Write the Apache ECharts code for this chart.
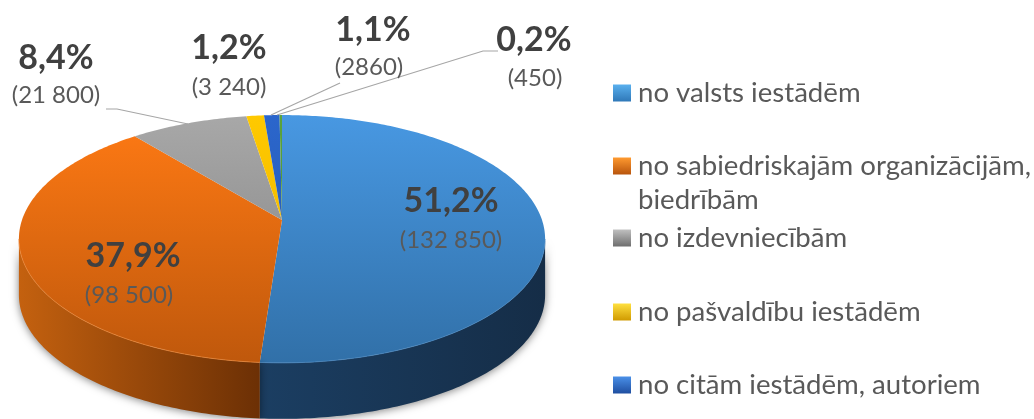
<!DOCTYPE html>
<html>
<head>
<meta charset="utf-8">
<script src="https://cdn.jsdelivr.net/npm/echarts@6/dist/echarts.min.js"></script>
<style>html,body{margin:0;padding:0;background:#fff}#c{width:1034px;height:419px}</style>
</head>
<body>
<div id="c"></div>
<script>
var sliceNames = ['no valsts iestādēm', 'no sabiedriskajām organizācijām,', 'no izdevniecībām', 'no pašvaldību iestādēm', 'no citām iestādēm, autoriem', 'citi'];
var sliceValues = [132850, 98500, 21800, 3240, 2860, 450];
var percentLabels = ['51,2%', '37,9%', '8,4%', '1,2%', '1,1%', '0,2%'];
var amountLabels = ['(132 850)', '(98 500)', '(21 800)', '(3 240)', '(2860)', '(450)'];
var legendExtraLine = 'biedrībām';

var topColors = [['#4898e2', '#3170a8'], ['#ff7a14', '#bf580c'], ['#a8a8a8', '#7f7f7f'], ['#ffc900', '#e8b000'], ['#2b66cc', '#2455a8'], ['#5ba33c', '#4c8a32']];
var wallColors = [['#1b3e62', '#152d47'], ['#c4610f', '#6c3005']];
var legendColors = [['#2f78b8', '#5ab0ee'], ['#b8540c', '#ff9a30'], ['#6e6e6e', '#c0c0c0'], ['#d09a00', '#ffe040'], ['#1f4ea0', '#4a90e8']];
var percentPos = [[451, 201], [133, 256], [56, 58], [229, 48], [373, 30], [534, 40]];
var amountPos = [[451, 240], [129, 295], [56, 95], [229, 87], [369, 67], [535, 78]];
var leaderLines = [null, null, [[106, 109], [117, 109], [188, 124]], null, [[271, 115], [340, 83]], [[277, 115], [483, 51], [498, 51]]];
var legendCenters = [93, 166, 238, 312, 385];

// perspective view of the pie's top face
var CX = 282, CY = 220, PA = 260, PB = 121, PK = 0.153, DEPTH = 56;
var total = sliceValues.reduce(function (a, b) { return a + b; }, 0);
var starts = [];
sliceValues.reduce(function (acc, v, i) { starts[i] = acc; return acc + v; }, 0);
var rimStart = Math.acos(-PK), rimEnd = Math.PI * 2 - rimStart;

function pt(a, dy) {
  var d = 1 + PK * Math.cos(a);
  return [CX + PA * Math.sin(a) / d, CY - PB * Math.cos(a) / d + (dy || 0)];
}
function arc(a0, a1, dy) {
  var n = Math.max(2, Math.ceil(Math.abs(a1 - a0) / 0.015)), out = [];
  for (var i = 0; i <= n; i++) out.push(pt(a0 + (a1 - a0) * i / n, dy));
  return out;
}
function grad(x, y, x2, y2, pair) {
  return new echarts.graphic.LinearGradient(x, y, x2, y2, [{ offset: 0, color: pair[0] }, { offset: 1, color: pair[1] }], true);
}

function makeRender(i) {
  return function (params, api) {
    var v = api.value(0);
    var a0 = starts[i] / total * Math.PI * 2;
    var a1 = a0 + v / total * Math.PI * 2;
    var kids = [];
    var w0 = Math.max(a0, rimStart), w1 = Math.min(a1, rimEnd);
    if (w1 > w0) {
      var wallPts = arc(w0, w1, 0).concat(arc(w1, w0, DEPTH));
      var xs = wallPts.map(function (p) { return p[0]; });
      var gx0 = Math.min.apply(null, xs), gx1 = Math.max.apply(null, xs);
      kids.push({
        type: 'polygon', shape: { points: wallPts },
        style: {
          fill: grad(gx0, 0, gx1, 0, wallColors[i]),
          shadowBlur: 9, shadowColor: 'rgba(0,0,0,0.5)', shadowOffsetY: 1
        }
      });
    }
    kids.push({
      type: 'polygon', shape: { points: [[CX, CY]].concat(arc(a0, a1, 0)) },
      style: { fill: grad(0, 115, 0, 363, topColors[i]) }
    });
    if (w1 > w0) {
      kids.push({
        type: 'polyline', shape: { points: arc(w0, w1, 0) },
        style: { fill: null, stroke: i === 0 ? '#4a8ac4' : '#f08a3a', lineWidth: 1, opacity: 0.7 }
      });
    }
    if (leaderLines[i]) {
      kids.push({
        type: 'polyline', shape: { points: leaderLines[i] },
        style: { fill: null, stroke: '#a6a6a6', lineWidth: 1.2 }
      });
    }
    kids.push({
      type: 'text', z2: 10,
      style: {
        text: percentLabels[i], x: percentPos[i][0], y: percentPos[i][1], align: 'center', verticalAlign: 'middle',
        fill: '#404040', font: 'bold 34px Lato, sans-serif'
      }
    });
    kids.push({
      type: 'text', z2: 10,
      style: {
        text: amountLabels[i], x: amountPos[i][0], y: amountPos[i][1], align: 'center', verticalAlign: 'middle',
        fill: '#595959', font: '24px Lato, sans-serif'
      }
    });
    return { type: 'group', children: kids };
  };
}

var legends = legendCenters.map(function (cy, i) {
  return {
    left: 613, top: cy - 14, padding: 0, orient: 'vertical', itemWidth: 18, itemHeight: 17,
    selectedMode: false, icon: 'rect',
    textStyle: { fontFamily: 'Lato, sans-serif', fontSize: 27.6, color: '#595959', lineHeight: 28, padding: [0, 0, 0, 2] },
    data: [{ name: sliceNames[i], icon: 'rect', itemStyle: {
      color: new echarts.graphic.LinearGradient(0, 1, 0, 0, [{ offset: 0, color: legendColors[i][0] }, { offset: 1, color: legendColors[i][1] }])
    } }]
  };
});

var chart = echarts.init(document.getElementById('c'), null, { renderer: 'canvas' });
chart.setOption({
  animation: false,
  backgroundColor: '#fff',
  legend: legends,
  graphic: [{
    type: 'text', left: 638, top: 186,
    style: { text: legendExtraLine, font: '27.6px Lato, sans-serif', fill: '#595959' }
  }],
  series: sliceValues.map(function (v, i) {
    return {
      type: 'custom', name: sliceNames[i], coordinateSystem: 'none', silent: true,
      itemStyle: { color: topColors[i][0] },
      data: [[v]], renderItem: makeRender(i), clip: false
    };
  })
});
</script>
</body>
</html>
